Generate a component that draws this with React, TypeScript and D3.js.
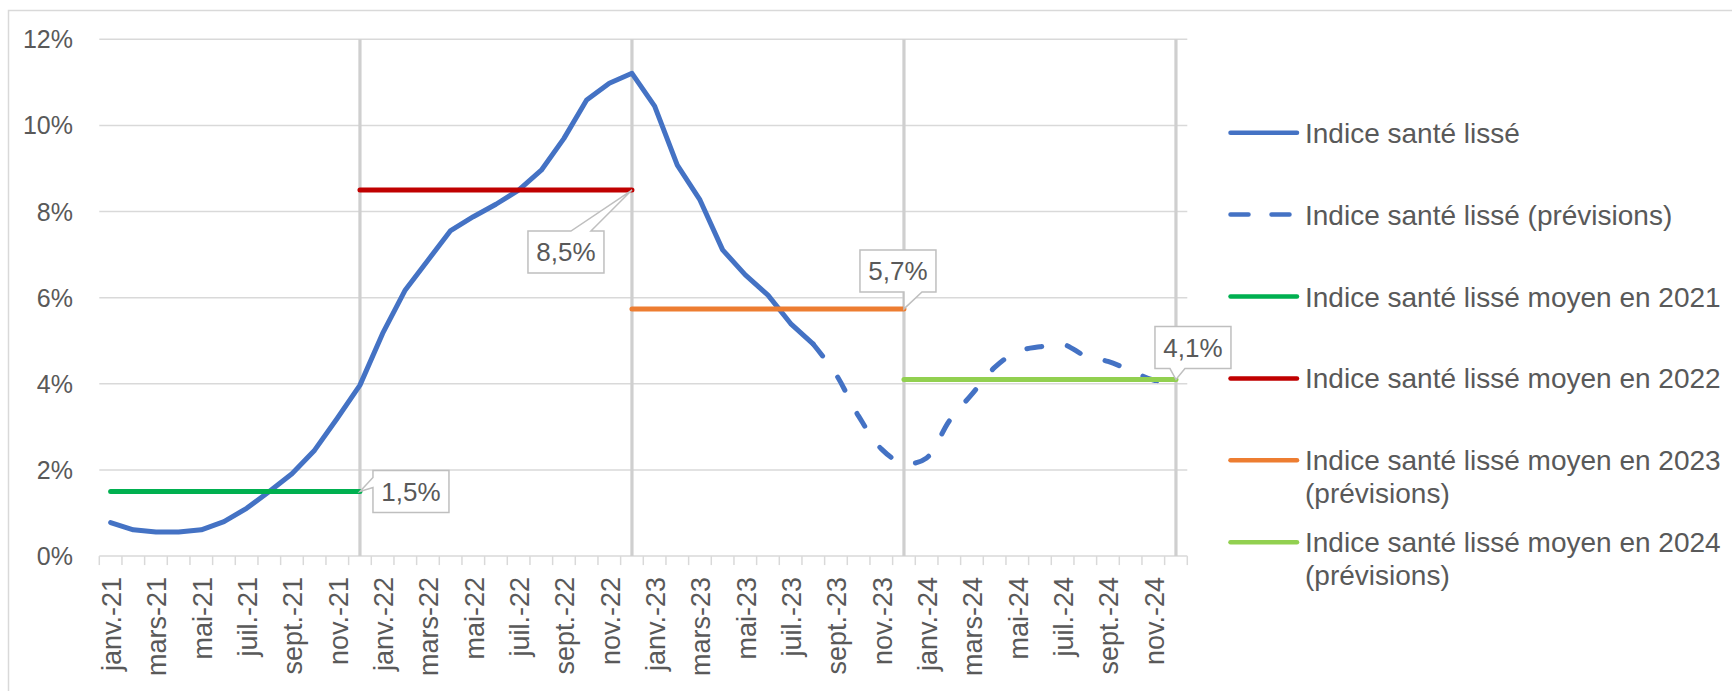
import * as d3 from 'd3'

// categories (one per month, janv.-21 -> déc.-24)
const months = ['janv.', 'févr.', 'mars', 'avr.', 'mai', 'juin', 'juil.', 'août', 'sept.', 'oct.', 'nov.', 'déc.']
const years = ['21', '22', '23', '24']
const categories = years.flatMap((yy) => months.map((m) => `${m}-${yy}`))

// indice santé lissé, observed part: janv.-21 -> août-23
const observed = [
  0.78, 0.61, 0.56, 0.56, 0.61, 0.8, 1.11, 1.5, 1.91, 2.46, 3.2, 3.97,
  5.17, 6.18, 6.87, 7.56, 7.88, 8.17, 8.5, 8.96, 9.7, 10.59, 10.98, 11.21,
  10.45, 9.08, 8.27, 7.11, 6.53, 6.06, 5.4, 4.92,
]
// forecast part: août-23 -> déc.-24
const forecastStart = 31
const forecast = [4.92, 4.22, 3.25, 2.49, 2.15, 2.28, 3.14, 3.76, 4.38, 4.75, 4.86, 4.92, 4.65, 4.52, 4.31, 4.09, 4.05]

// yearly averages
const avgYears = ['2021', '2022', '2023', '2024']
const avgValues = [1.5, 8.5, 5.74, 4.1]
const avgColors = ['#00B050', '#C00000', '#ED7D31', '#92D050']

const yTicks = [0, 2, 4, 6, 8, 10, 12]

const legendItems = [
  { lines: ['Indice santé lissé'], color: '#4472C4', dash: false },
  { lines: ['Indice santé lissé (prévisions)'], color: '#4472C4', dash: true },
  { lines: ['Indice santé lissé moyen en 2021'], color: '#00B050', dash: false },
  { lines: ['Indice santé lissé moyen en 2022'], color: '#C00000', dash: false },
  { lines: ['Indice santé lissé moyen en 2023', '(prévisions)'], color: '#ED7D31', dash: false },
  { lines: ['Indice santé lissé moyen en 2024', '(prévisions)'], color: '#92D050', dash: false },
]

// callout placement relative to the end point of each average line
const callouts = [
  { dx: 51, dy: 0, side: 'left', a: 7, b: 17 },
  { dx: -66, dy: 62, side: 'top', a: 43, b: 63 },
  { dx: -6, dy: -38, side: 'bottom', a: 44, b: 62 },
  { dx: 17, dy: -32, side: 'bottom', a: 15, b: 30 },
]

const W = 1732
const H = 691
const FONT = '"Liberation Sans", Arial, sans-serif'
const TEXT = '#595959'
const GRID = '#d9d9d9'

const left = 99.3
const right = 1187.3
const top = 39.3
const bottom = 556.1

function calloutPath(x0: number, y0: number, x1: number, y1: number, side: string, a: number, b: number, tx: number, ty: number) {
  if (side === 'top')
    return `M${x0},${y0}L${x0 + a},${y0}L${tx},${ty}L${x0 + b},${y0}L${x1},${y0}L${x1},${y1}L${x0},${y1}Z`
  if (side === 'bottom')
    return `M${x0},${y0}L${x1},${y0}L${x1},${y1}L${x0 + b},${y1}L${tx},${ty}L${x0 + a},${y1}L${x0},${y1}Z`
  return `M${x0},${y0}L${x1},${y0}L${x1},${y1}L${x0},${y1}L${x0},${y0 + b}L${tx},${ty}L${x0},${y0 + a}Z`
}

export default function App() {
  const x = d3.scaleBand<string>().domain(categories).range([left, right]).padding(0)
  const y = d3.scaleLinear().domain([0, 12]).range([bottom, top])
  const bw = x.bandwidth()
  const cx = (i: number) => (x(categories[i]) as number) + bw / 2

  const solidLine = d3
    .line<number>()
    .x((_, i) => cx(i))
    .y((d) => y(d))
  const dashLine = d3
    .line<number>()
    .x((_, i) => cx(i + forecastStart))
    .y((d) => y(d))
    .curve(d3.curveCatmullRom.alpha(0.5))

  const fmt = (v: number) => v.toFixed(1).replace('.', ',') + '%'

  return (
    <div style={{ position: 'absolute', left: 0, top: 0 }}>
      <svg width={W} height={H} style={{ display: 'block', background: '#fff' }} fontFamily={FONT}>
        <rect x={8.5} y={10.5} width={W + 20} height={H + 20} fill="#fff" stroke={GRID} strokeWidth={1.5} />

        {/* horizontal gridlines */}
        {yTicks.map((t) => (
          <line key={t} x1={left} x2={right} y1={y(t)} y2={y(t)} stroke={GRID} strokeWidth={1.5} />
        ))}

        {/* year separators */}
        {avgYears.map((yr, k) => (
          <line key={yr} x1={cx(k * 12 + 11)} x2={cx(k * 12 + 11)} y1={y(12)} y2={y(0)} stroke="#cfcfcf" strokeWidth={3.2} />
        ))}

        {/* x ticks */}
        {d3.range(categories.length + 1).map((i) => {
          const xx = left + i * bw
          return <line key={i} x1={xx} x2={xx} y1={bottom} y2={bottom + 9} stroke={GRID} strokeWidth={1.5} />
        })}

        {/* y labels */}
        {yTicks.map((t) => (
          <text key={t} x={73} y={y(t)} dy="0.36em" textAnchor="end" fontSize={25} fill={TEXT}>
            {t}%
          </text>
        ))}

        {/* x labels */}
        {categories.map((c, i) =>
          i % 2 === 0 ? (
            <text
              key={c}
              transform={`translate(${cx(i) + 10.5},577) rotate(-90)`}
              textAnchor="end"
              fontSize={27}
              fill={TEXT}
            >
              {c}
            </text>
          ) : null
        )}

        {/* series */}
        <path d={solidLine(observed) as string} fill="none" stroke="#4472C4" strokeWidth={5} strokeLinejoin="round" strokeLinecap="round" />
        <path
          d={dashLine(forecast) as string}
          fill="none"
          stroke="#4472C4"
          strokeWidth={5}
          strokeDasharray="15 26"
          strokeLinecap="round"
        />

        {/* yearly averages: 2021 from janv., later years from the previous déc. */}
        {avgValues.map((v, k) => (
          <line
            key={avgYears[k]}
            x1={cx(Math.max(0, k * 12 - 1))}
            x2={cx(k * 12 + 11)}
            y1={y(v)}
            y2={y(v)}
            stroke={avgColors[k]}
            strokeWidth={5}
            strokeLinecap="round"
          />
        ))}

        {/* data labels */}
        {avgValues.map((v, k) => {
          const c = callouts[k]
          const tx = cx(k * 12 + 11)
          const ty = y(v)
          const bx = tx + c.dx
          const by = ty + c.dy
          const w = 76
          const h = 42
          return (
            <g key={avgYears[k]}>
              <path
                d={calloutPath(bx - w / 2, by - h / 2, bx + w / 2, by + h / 2, c.side, c.a, c.b, tx, ty)}
                fill="#fff"
                stroke="#bfbfbf"
                strokeWidth={1.5}
              />
              <text x={bx} y={by} dy="0.36em" textAnchor="middle" fontSize={26} fill={TEXT}>
                {fmt(v)}
              </text>
            </g>
          )
        })}

        {/* legend */}
        {legendItems.map((it, k) => {
          const ly = 132.7 + k * 81.9
          return (
            <g key={k}>
              <line
                x1={1230.5}
                x2={1297}
                y1={ly}
                y2={ly}
                stroke={it.color}
                strokeWidth={4.5}
                strokeLinecap="round"
                strokeDasharray={it.dash ? '18 23' : undefined}
              />
              {it.lines.map((s, j) => (
                <text key={j} x={1305} y={ly + 10 + j * 32.4} fontSize={28} fill={TEXT}>
                  {s}
                </text>
              ))}
            </g>
          )
        })}
      </svg>
    </div>
  )
}
